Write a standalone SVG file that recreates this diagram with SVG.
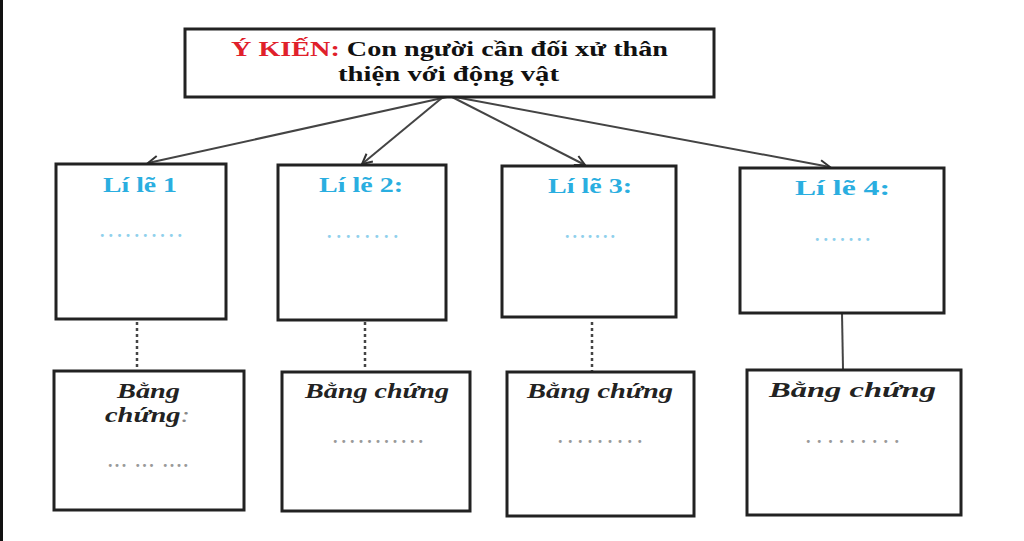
<svg xmlns="http://www.w3.org/2000/svg" width="1024" height="541" viewBox="0 0 1024 541">
<defs>
<marker id="arr" markerWidth="14" markerHeight="14" refX="11" refY="6" orient="auto" markerUnits="userSpaceOnUse">
<path d="M1,1 L11,6 L1,11" fill="none" stroke="#333" stroke-width="2"/>
</marker>
<style>
.box{fill:#fff;stroke:#222;stroke-width:3}
.top{font-family:"Liberation Serif","Times New Roman",serif;font-weight:bold;font-size:21px;fill:#111}
.lbl{font-family:"Liberation Serif","Times New Roman",serif;font-weight:bold;font-size:20px;fill:#2aaee0}
.dots{font-family:"Liberation Serif",serif;font-weight:bold;font-size:18px;fill:#8fd0ec}
.ev{font-family:"Liberation Serif","Times New Roman",serif;font-weight:bold;font-style:italic;font-size:22px;fill:#222}
.gdots{font-family:"Liberation Serif",serif;font-weight:bold;font-size:18px;fill:#999}
.conn{stroke:#444;stroke-width:2;fill:none}
.dot{stroke:#444;stroke-width:2.5;stroke-dasharray:3 3;fill:none}
</style>
</defs>
<rect width="1024" height="541" fill="#fff"/>
<rect x="0" y="0" width="3" height="541" fill="#111"/>
<g id="connectors">
<line class="conn" x1="447" y1="97" x2="148" y2="163" marker-end="url(#arr)"/>
<line class="conn" x1="443" y1="97" x2="362" y2="164" marker-end="url(#arr)"/>
<line class="conn" x1="452" y1="97" x2="585" y2="165" marker-end="url(#arr)"/>
<line class="conn" x1="455" y1="97" x2="830" y2="167" marker-end="url(#arr)"/>
<line class="dot" x1="137" y1="322" x2="137" y2="370"/>
<line class="dot" x1="365" y1="322" x2="365" y2="370"/>
<line class="dot" x1="592" y1="322" x2="592" y2="371"/>
<line class="conn" x1="842" y1="313" x2="843" y2="369"/>
</g>
<g id="top">
<rect class="box" x="185" y="29" width="529" height="68"/>
<text class="top" x="231" y="56" textLength="437" lengthAdjust="spacingAndGlyphs"><tspan fill="#e0202a">Ý KIẾN:</tspan> Con người cần đối xử thân</text>
<text class="top" x="338" y="81" textLength="221" lengthAdjust="spacingAndGlyphs">thiện với động vật</text>
</g>
<g id="r1">
<rect class="box" x="56" y="164" width="170" height="155"/>
<text class="lbl" x="103" y="192" textLength="74" lengthAdjust="spacingAndGlyphs">Lí lẽ 1</text>
<text class="dots" x="100" y="237" textLength="82" lengthAdjust="spacing">..........</text>
</g>
<g id="r2">
<rect class="box" x="278" y="165" width="168" height="155"/>
<text class="lbl" x="319" y="192" textLength="84" lengthAdjust="spacingAndGlyphs">Lí lẽ 2:</text>
<text class="dots" x="327" y="238" textLength="71" lengthAdjust="spacing">........</text>
</g>
<g id="r3">
<rect class="box" x="502" y="166" width="174" height="151"/>
<text class="lbl" x="548" y="193" textLength="84" lengthAdjust="spacingAndGlyphs">Lí lẽ 3:</text>
<text class="dots" x="565" y="238" textLength="50" lengthAdjust="spacing">.......</text>
</g>
<g id="r4">
<rect class="box" x="740" y="168" width="204" height="145"/>
<text class="lbl" x="795" y="195" textLength="95" lengthAdjust="spacingAndGlyphs">Lí lẽ 4:</text>
<text class="dots" x="815" y="241" textLength="55" lengthAdjust="spacing">.......</text>
</g>
<g id="e1">
<rect class="box" x="54" y="371" width="190" height="139"/>
<text class="ev" x="117" y="398" textLength="63" lengthAdjust="spacingAndGlyphs">Bằng</text>
<text class="ev" x="105" y="422" textLength="85" lengthAdjust="spacingAndGlyphs">chứng<tspan font-weight="normal" fill="#888">:</tspan></text>
<text class="gdots" x="108" y="467" textLength="80" lengthAdjust="spacing">... ... ....</text>
</g>
<g id="e2">
<rect class="box" x="282" y="372" width="188" height="139"/>
<text class="ev" x="305" y="398" textLength="144" lengthAdjust="spacingAndGlyphs">Bằng chứng</text>
<text class="gdots" x="333" y="443" textLength="90" lengthAdjust="spacing">...........</text>
</g>
<g id="e3">
<rect class="box" x="507" y="372" width="187" height="144"/>
<text class="ev" x="527" y="398" textLength="146" lengthAdjust="spacingAndGlyphs">Bằng chứng</text>
<text class="gdots" x="558" y="443" textLength="84" lengthAdjust="spacing">.........</text>
</g>
<g id="e4">
<rect class="box" x="747" y="370" width="214" height="145"/>
<text class="ev" x="769" y="397" textLength="167" lengthAdjust="spacingAndGlyphs">Bằng chứng</text>
<text class="gdots" x="806" y="443" textLength="93" lengthAdjust="spacing">.........</text>
</g>
</svg>
